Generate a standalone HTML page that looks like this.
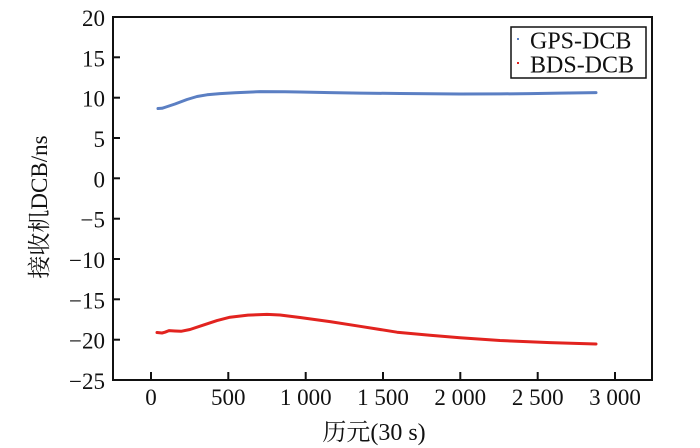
<!DOCTYPE html>
<html>
<head>
<meta charset="utf-8">
<style>
html,body{margin:0;padding:0;background:#fff;}
svg{display:block;}
text{font-family:"Liberation Serif","Noto Serif CJK SC","Noto Sans CJK SC",serif;fill:#111;}
</style>
</head>
<body>
<svg width="700" height="448" viewBox="0 0 700 448" xmlns="http://www.w3.org/2000/svg">
<rect x="0" y="0" width="700" height="448" fill="#fff"/>
<!-- series -->
<polyline fill="none" stroke="#5b7fc3" stroke-width="3" stroke-linejoin="round" stroke-linecap="round"
points="158,108.5 162,108.3 166,107 175,104 187,99.5 197,96.5 207,94.8 220,93.6 235,92.8 260,91.6 285,91.8 300,92 330,92.6 360,93.1 400,93.5 430,93.8 460,94 500,93.9 530,93.6 560,93.1 596,92.6"/>
<polyline fill="none" stroke="#e2231f" stroke-width="3" stroke-linejoin="round" stroke-linecap="round"
points="157,332.5 162,333 165,332.2 169,330.6 175,331 181,331.3 190,329.5 203,325.2 217,320.6 230,317.2 248,315.1 267,314.4 280,315 300,317.5 330,321.6 360,326.3 397,332.2 430,335.2 460,337.7 500,340.5 550,342.6 596,344"/>
<!-- frame -->
<rect x="113" y="17" width="539" height="363" fill="none" stroke="#111" stroke-width="2"/>
<!-- x ticks -->
<g stroke="#111" stroke-width="2">
<line x1="151" y1="380" x2="151" y2="372"/>
<line x1="228.3" y1="380" x2="228.3" y2="372"/>
<line x1="305.7" y1="380" x2="305.7" y2="372"/>
<line x1="383" y1="380" x2="383" y2="372"/>
<line x1="460.3" y1="380" x2="460.3" y2="372"/>
<line x1="537.7" y1="380" x2="537.7" y2="372"/>
<line x1="615" y1="380" x2="615" y2="372"/>
<!-- y ticks -->
<line x1="113" y1="57.3" x2="120" y2="57.3"/>
<line x1="113" y1="97.7" x2="120" y2="97.7"/>
<line x1="113" y1="138" x2="120" y2="138"/>
<line x1="113" y1="178.3" x2="120" y2="178.3"/>
<line x1="113" y1="218.7" x2="120" y2="218.7"/>
<line x1="113" y1="259" x2="120" y2="259"/>
<line x1="113" y1="299.3" x2="120" y2="299.3"/>
<line x1="113" y1="339.7" x2="120" y2="339.7"/>
</g>
<!-- y tick labels -->
<g font-size="23" text-anchor="end">
<text x="105" y="26">20</text>
<text x="105" y="66.3">15</text>
<text x="105" y="106.7">10</text>
<text x="105" y="147">5</text>
<text x="105" y="187.3">0</text>
<text x="105" y="227.7">−5</text>
<text x="105" y="268">−10</text>
<text x="105" y="308.3">−15</text>
<text x="105" y="348.7">−20</text>
<text x="105" y="389">−25</text>
</g>
<!-- x tick labels -->
<g font-size="23" text-anchor="middle">
<text x="151" y="405">0</text>
<text x="228.3" y="405">500</text>
<text x="305.7" y="405">1 000</text>
<text x="383" y="405">1 500</text>
<text x="460.3" y="405">2 000</text>
<text x="537.7" y="405">2 500</text>
<text x="615" y="405">3 000</text>
</g>
<!-- axis labels -->
<text x="374" y="440" font-size="24" text-anchor="middle">历元(30 s)</text>
<text transform="translate(47,207) rotate(-90)" font-size="23" text-anchor="middle">接收机DCB/ns</text>
<!-- legend -->
<rect x="511" y="27" width="135" height="51" fill="#fff" stroke="#111" stroke-width="1.5"/>
<rect x="517" y="38" width="2" height="2" fill="#5b7fc3"/>
<rect x="517" y="62" width="2" height="2" fill="#e2231f"/>
<text x="530" y="48.5" font-size="24">GPS-DCB</text>
<text x="530" y="72.5" font-size="24">BDS-DCB</text>
</svg>
</body>
</html>
